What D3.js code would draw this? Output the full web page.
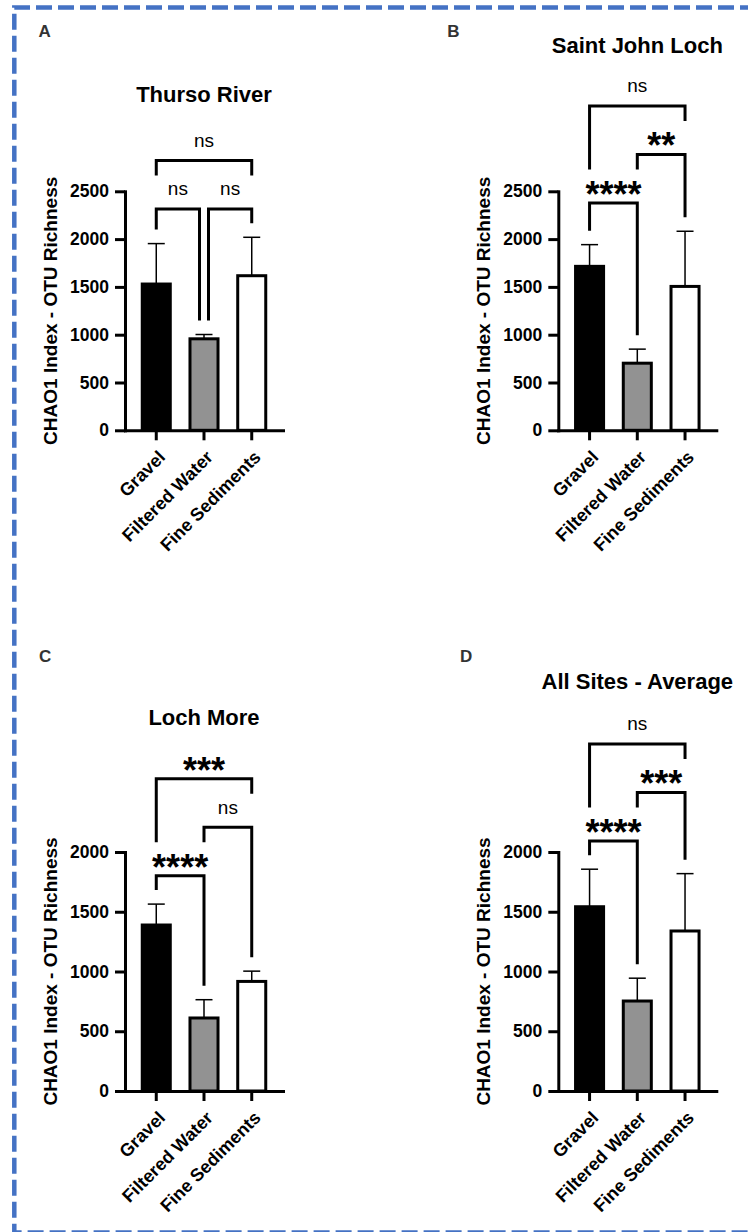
<!DOCTYPE html>
<html>
<head>
<meta charset="utf-8">
<script src="https://d3js.org/d3.v7.min.js"></script>
<style>
html, body { margin: 0; padding: 0; background: #fff; overflow: hidden; }
svg { display: block; }
text { font-family: "Liberation Sans", Arial, Helvetica, sans-serif; }
</style>
</head>
<body>
<div id="visu"></div>
<script>

// Catégories et textes
var categories = ["Gravel", "Filtered Water", "Fine Sediments"];
var lettres = ["A", "B", "C", "D"];
var titres = ["Thurso River", "Saint John Loch", "Loch More", "All Sites - Average"];
var yMax = [2500, 2500, 2000, 2000];
var ticksAB = [0, 500, 1000, 1500, 2000, 2500];
var ticksCD = [0, 500, 1000, 1500, 2000];

// Moyennes et écarts (barre d'erreur vers le haut)
var moyA = [1530, 957, 1617];
var etA  = [423, 45, 402];
var moyB = [1715, 702, 1505];
var etB  = [227, 147, 577];
var moyC = [1389, 611, 917];
var etC  = [175, 153, 86];
var moyD = [1542, 753, 1339];
var etD  = [314, 191, 480];

// Comparaisons : [indice 1, indice 2, significativité, niveau]
var compA = [[0, 1, "ns", 1], [1, 2, "ns", 1], [0, 2, "ns", 2]];
var compB = [[0, 1, "****", 1], [1, 2, "**", 2], [0, 2, "ns", 3]];
var compC = [[0, 1, "****", 1], [1, 2, "ns", 2], [0, 2, "***", 3]];
var compD = [[0, 1, "****", 1], [1, 2, "***", 2], [0, 2, "ns", 3]];

var couleurs = ["#000000", "#929292", "#ffffff"];

// Mise en page des quatre panneaux
var largeur = 748, hauteur = 1232;
var largeurAxe = 158, hauteurAxe = 239;
var panneaux = [
  {x0: 125,   y0: 430.3, titreY: 102,   lettreX: 38.5,  lettreY: 36.7},
  {x0: 558.3, y0: 430.3, titreY: 53.3,  lettreX: 447.3, lettreY: 36.7},
  {x0: 125,   y0: 1091,  titreY: 725,   lettreX: 39,    lettreY: 661.5},
  {x0: 558.3, y0: 1091,  titreY: 689.3, lettreX: 460,   lettreY: 662.3}
];

var svg = d3.select("#visu")
  .append("svg")
    .attr("width", largeur)
    .attr("height", hauteur);

svg.append("rect")
  .attr("width", largeur)
  .attr("height", hauteur)
  .attr("fill", "#fff");

// Cadre bleu en pointillés (haut, gauche, bas)
svg.append("path")
  .attr("d", "M800,7.5H14.3V1232.5H800")
  .attr("fill", "none")
  .attr("stroke", "#4472C4")
  .attr("stroke-width", 4.5)
  .attr("stroke-dasharray", "16,6");

function dessine(i, moy, et, comp) {
  var p = panneaux[i];
  var data = categories.map(function(c, k) { return {cat: c, m: moy[k], s: et[k], k: k}; });

  var x = d3.scaleBand()
    .domain(categories)
    .range([0, largeurAxe])
    .paddingInner(0.35)
    .paddingOuter(0.33);
  var y = d3.scaleLinear()
    .domain([0, yMax[i]])
    .range([hauteurAxe, 0]);
  var bw = x.bandwidth();
  var cx = function(k) { return x(categories[k]) + bw / 2; };

  var g = svg.append("g")
    .attr("transform", "translate(" + p.x0 + "," + (p.y0 - hauteurAxe) + ")");

  // lettre et titre
  svg.append("text")
    .attr("x", p.lettreX).attr("y", p.lettreY)
    .attr("font-size", 17).attr("font-weight", "bold").attr("fill", "#333")
    .text(lettres[i]);
  svg.append("text")
    .attr("x", p.x0 + cx(1)).attr("y", p.titreY)
    .attr("text-anchor", "middle")
    .attr("font-size", 22).attr("font-weight", "bold")
    .text(titres[i]);

  // barres d'erreur (derrière les barres)
  var eb = g.selectAll(".err").data(data).enter().append("g").attr("class", "err");
  eb.append("line")
    .attr("x1", d => cx(d.k)).attr("x2", d => cx(d.k))
    .attr("y1", d => y(d.m)).attr("y2", d => y(d.m + d.s))
    .attr("stroke", "#000").attr("stroke-width", 1.5);
  eb.append("line")
    .attr("x1", d => cx(d.k) - 8.5).attr("x2", d => cx(d.k) + 8.5)
    .attr("y1", d => y(d.m + d.s)).attr("y2", d => y(d.m + d.s))
    .attr("stroke", "#000").attr("stroke-width", 1.5);

  // barres
  g.selectAll(".bar").data(data).enter().append("rect")
    .attr("class", "bar")
    .attr("x", d => x(d.cat) + 1.5)
    .attr("width", bw - 3)
    .attr("y", d => y(d.m))
    .attr("height", d => y(0) - y(d.m))
    .attr("fill", d => couleurs[d.k])
    .attr("stroke", "#000")
    .attr("stroke-width", 3);

  // axes
  var axeY = g.append("g")
    .call(d3.axisLeft(y)
      .tickValues(yMax[i] == 2500 ? ticksAB : ticksCD)
      .tickFormat(d3.format("d"))
      .tickSize(10).tickSizeOuter(0).tickPadding(6));
  var axeX = g.append("g")
    .attr("transform", "translate(0," + hauteurAxe + ")")
    .call(d3.axisBottom(x).tickSize(10).tickSizeOuter(0));
  g.selectAll(".domain").attr("stroke", "#000").attr("stroke-width", 3).attr("stroke-linecap", "square");
  g.selectAll(".tick line").attr("stroke", "#000").attr("stroke-width", 3);
  axeY.selectAll("text")
    .attr("font-size", 17.5).attr("font-weight", "bold").attr("fill", "#000")
    .attr("font-family", "'Liberation Sans', Arial, sans-serif");
  axeX.selectAll("text")
    .attr("font-size", 18).attr("font-weight", "bold").attr("fill", "#000")
    .attr("font-family", "'Liberation Sans', Arial, sans-serif")
    .attr("text-anchor", "end")
    .attr("x", 0).attr("y", 0).attr("dy", 0)
    .attr("transform", "translate(10,28) rotate(-45)");

  // titre de l'axe Y
  g.append("text")
    .attr("transform", "translate(-68," + (hauteurAxe / 2) + ") rotate(-90)")
    .attr("text-anchor", "middle")
    .attr("font-size", 19).attr("font-weight", "bold")
    .text("CHAO1 Index - OTU Richness");

  // crochets de comparaison
  var base = d3.min(data, d => y(d.m + d.s)) - 28.3;
  var niveauY = function(L) { return base - (L - 1) * 48.5; };
  var basJambe = function(k, L) {
    var dessous = comp.filter(c => c[3] < L && c[0] <= k && k <= c[1]);
    var b;
    if (dessous.length) b = d3.min(dessous, c => niveauY(c[3])) - 33.5;
    else b = y(moy[k] + et[k]) - 14;
    return Math.max(b, niveauY(L) + 13);
  };
  comp.forEach(function(c) {
    var L = c[3], yy = niveauY(L);
    var xa = cx(c[0]), xb = cx(c[1]);
    if (comp.some(o => o !== c && o[3] == L && o[1] == c[0])) xa += 4.5;
    if (comp.some(o => o !== c && o[3] == L && o[0] == c[1])) xb -= 4.5;
    g.append("path")
      .attr("d", "M" + xa + "," + basJambe(c[0], L) + "V" + yy + "H" + xb + "V" + basJambe(c[1], L))
      .attr("fill", "none").attr("stroke", "#000").attr("stroke-width", 3);
    var t = g.append("text")
      .attr("x", (xa + xb) / 2)
      .attr("text-anchor", "middle")
      .text(c[2]);
    if (c[2] == "ns") t.attr("y", yy - 13.5).attr("font-size", 19);
    else t.attr("y", yy + 4).attr("font-size", 36).attr("font-weight", "bold");
  });
}

dessine(0, moyA, etA, compA);
dessine(1, moyB, etB, compB);
dessine(2, moyC, etC, compC);
dessine(3, moyD, etD, compD);

</script>
</body>
</html>
